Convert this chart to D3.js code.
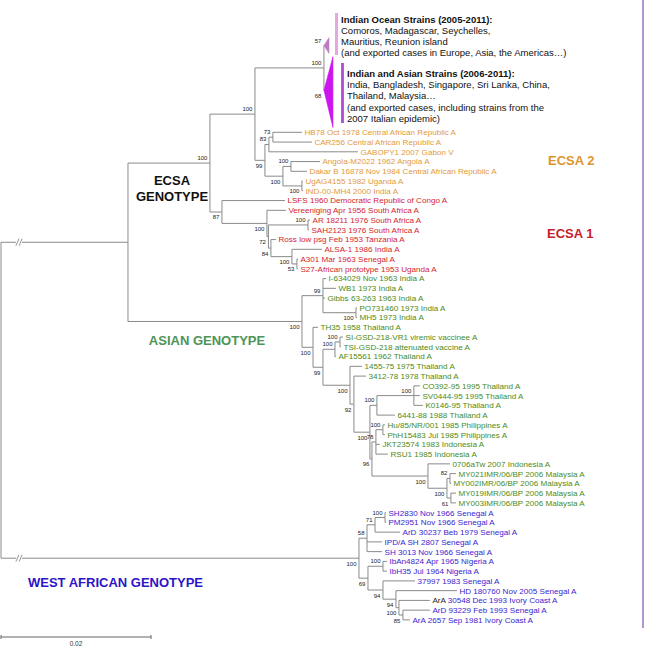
<!DOCTYPE html>
<html><head><meta charset="utf-8">
<script src="https://cdn.jsdelivr.net/npm/d3@7"></script>
<style>
html,body{margin:0;padding:0;background:#fff;}
svg{display:block;font-family:"Liberation Sans",Arial,Helvetica,sans-serif;}
</style></head><body>
<svg id="chart" width="645" height="646"></svg>
<script>
// ---------------- DATA ----------------
// Branch lengths in substitutions/site, bootstrap support as internal labels.
const ecsa2Newick = "((('HB78 Oct 1978 Central African Republic A':0.00387,'CAR256 Central African Republic A':0.0052)73:0.00053,'GABOPY1 2007 Gabon V':0.01187)83:0.00053,(('Angola-M2022 1962 Angola A':0.00387,'Dakar B 16878 Nov 1984 Central African Republic A':0.00213)100:0.00107,('UgAG4155 1982 Uganda A':0.00013,'IND-00-MH4 2000 India A':0.00013)100:0.00253)100:0.0024)99:0.00133";
const indianOceanNewick = "(('[IO]':0,'[IA]':0)100:0.0092," + ecsa2Newick + ")100:0.006";
const ecsa1Newick = "('LSFS 1960 Democratic Republic of Congo A':0.0084,('Vereeniging Apr 1956 South Africa A':0.00253,(('AR 18211 1976 South Africa A':0.00027,'SAH2123 1976 South Africa A':0.00013)100:0.00527,('Ross low psg Feb 1953 Tanzania A':0.00067,('ALSA-1 1986 India A':0.004,('A301 Mar 1963 Senegal A':0.00013,'S27-African prototype 1953 Uganda A':0.00013)53:0.00067)100:0.0028)84:0.00033)72:0.0002)100:0.006)87:0.0016";
const asianNewick = "(" +
  "('I-634029 Nov 1963 India A':0.0004,'WB1 1973 India A':0.00173,'Gibbs 63-263 1963 India A':0.00027,('PO731460 1973 India A':0.00013,'MH5 1973 India A':0.00013)100:0.0044)99:0.0028," +
  "('TH35 1958 Thailand A':0.00067,(" +
  "(('SI-GSD-218-VR1 viremic vaccinee A':0.0004,'TSI-GSD-218 attenuated vaccine A':0.00013)100:0.00067,'AF15561 1962 Thailand A':0.00013)100:0.0016," +
  "('1455-75 1975 Thailand A':0.0016,('3412-78 1978 Thailand A':0.0016,(" +
  "(('CO392-95 1995 Thailand A':0.0008,'SV0444-95 1995 Thailand A':0.0008,'K0146-95 Thailand A':0.0012)100:0.00493,'6441-88 1988 Thailand A':0.0024)100:0.00093," +
  "((('Hu/85/NR/001 1985 Philippines A':0.00027,'PhH15483 Jul 1985 Philippines A':0.00027)100:0.00093,'JKT23574 1983 Indonesia A':0.00053,'RSU1 1985 Indonesia A':0.0016)78:0.00053," +
  "('0706aTw 2007 Indonesia A':0.00293,(('MY021IMR/06/BP 2006 Malaysia A':0.0008,'MY002IMR/06/BP 2006 Malaysia A':0.00013)82:0.0004,('MY019IMR/06/BP 2006 Malaysia A':0.00067,'MY003IMR/06/BP 2006 Malaysia A':0.00067)61:0.00053)100:0.00253)100:0.00747" +
  ")96:0.00027)100:0.00213)92:0.00053)100:0.0036)99:0.00133)100:0.00147)100:0.0232";
const westAfricanNewick = "(" +
  "((('SH2830 Nov 1966 Senegal A':0.00013,'PM2951 Nov 1966 Senegal A':0.00013)100:0.00133,'ArD 30237 Beb 1979 Senegal A':0.00333)71:0.00107,'IPD/A SH 2807 Senegal A':0.002,'SH 3013 Nov 1966 Senegal A':0.002)58:0.00107," +
  "(('IbAn4824 Apr 1965 Nigeria A':0.00053,'IbH35 Jul 1964 Nigeria A':0.00053)100:0.002,('37997 1983 Senegal A':0.00427,('HD 180760 Nov 2005 Senegal A':0.00813,('ArA 30548 Dec 1993 Ivory Coast A':0.00413,('ArD 93229 Feb 1993 Senegal A':0.0036,'ArA 2657 Sep 1981 Ivory Coast A':0.00093)85:0.00053)100:0.0004)94:0.00173)94:0.002)69:0.0012" +
  ")100:0.04773";
const treeNewick = "(((" + indianOceanNewick + "," + ecsa1Newick + ")100:0.01093," + asianNewick + "):0.01693," + westAfricanNewick + ");";

// collapsed clades
const cladeKeys = ['[IO]', '[IA]'];
const cladeSupport = [57, 68];
const cladeDepth = [0.00067, 0.0012];
const cladeTitles = ['Indian Ocean Strains (2005-2011):', 'Indian and Asian Strains (2006-2011):'];
const cladeLines = [
  ['Comoros, Madagascar, Seychelles,', 'Mauritius, Reunion island', '(and exported cases in Europe, Asia, the Americas\u2026)'],
  ['India, Bangladesh, Singapore, Sri Lanka, China,', 'Thailand, Malaysia\u2026', '(and exported cases, including strains from the', '2007 Italian epidemic)']
];

// lineage groups (first strain of each group, in tree order)
const groupNames = ['ECSA2', 'ECSA1', 'Asian', 'WestAfrican'];
const groupFirstStrain = ['HB78 Oct 1978 Central African Republic A', 'LSFS 1960 Democratic Republic of Congo A', 'I-634029 Nov 1963 India A', 'SH2830 Nov 1966 Senegal A'];
const scaleBarValue = 0.02;

// ---------------- STYLE / LAYOUT ----------------
const groupColors = {ECSA2: '#E39A3B', ECSA1: '#D5252E', Asian: '#4A8B22', WestAfrican: '#3B1ECF'};
const cladeRows = [1.6, 7.6];
const cladeFill = ['#C07CC2', '#CC14EE'];
const cladeBar = ['#E3A8DC', '#B24AD8'];
const lineColor = '#8a8a8a';

function parseNewick(s) {
  let i = 0;
  function node() {
    const n = {};
    if (s[i] === '(') {
      n.children = [];
      i++;
      n.children.push(node());
      while (s[i] === ',') { i++; n.children.push(node()); }
      i++;
    }
    let label = '';
    if (s[i] === "'") { i++; while (s[i] !== "'") label += s[i++]; i++; }
    else { while (i < s.length && !':,();'.includes(s[i])) label += s[i++]; }
    let len = '';
    if (s[i] === ':') { i++; while (i < s.length && !',();'.includes(s[i])) len += s[i++]; }
    n.length = len ? +len : 0;
    if (n.children) n.support = label ? +label : null; else n.name = label;
    return n;
  }
  return node();
}

const svg = d3.select('#chart');
const root = d3.hierarchy(parseNewick(treeNewick), d => d.children);
root.eachBefore(d => { d.dist = d.parent ? d.parent.dist + d.data.length : 0; });
const leaves = root.leaves();
let cursor = 0, gi = -1;
leaves.forEach(l => {
  const ci = cladeKeys.indexOf(l.data.name);
  l.ci = ci;
  const size = ci >= 0 ? cladeRows[ci] : 1;
  l.slot = [cursor, cursor + size];
  l.row = cursor + size / 2;
  cursor += size;
  const g = groupFirstStrain.indexOf(l.data.name);
  if (g >= 0) gi = g;
  l.group = gi >= 0 ? groupNames[gi] : null;
});
root.eachAfter(d => { if (d.children) d.row = (d.children[0].row + d.children[d.children.length - 1].row) / 2; });

const normal = leaves.filter(l => l.ci < 0);
const y = d3.scaleLinear().domain([normal[0].row, normal[normal.length - 1].row]).range([132.3, 619.9]);
const x = d3.scaleLinear().domain([0, scaleBarValue]).range([1, 151]);

// right-hand frame line
svg.append('line').attr('x1', 643).attr('x2', 643).attr('y1', 0).attr('y2', 628)
  .attr('stroke', '#9a72c4').attr('stroke-width', 1.5);

// branches
const internals = root.descendants().filter(d => d.children);
const gl = svg.append('g').attr('fill', 'none').attr('stroke', lineColor).attr('stroke-width', 1);
gl.selectAll('path.v').data(internals).join('path').attr('class', 'v')
  .attr('d', d => `M${x(d.dist)},${y(d.children[0].row)}V${y(d.children[d.children.length - 1].row)}`);
gl.selectAll('path.h').data(root.links()).join('path').attr('class', 'h')
  .attr('d', l => `M${x(l.source.dist)},${y(l.target.row)}H${x(l.target.dist)}`);

// break marks on the two long basal branches
root.children.forEach(c => {
  const yy = y(c.row), bx = x(0.0024);
  svg.append('rect').attr('x', bx - 3).attr('y', yy - 2).attr('width', 6).attr('height', 4).attr('fill', '#fff');
  [-1.6, 1.6].forEach(o => svg.append('line')
    .attr('x1', bx + o - 1.5).attr('y1', yy + 3.5).attr('x2', bx + o + 1.5).attr('y2', yy - 3.5)
    .attr('stroke', lineColor).attr('stroke-width', 0.9));
});

// collapsed clades (triangles + bars + descriptions)
const collapsed = leaves.filter(l => l.ci >= 0);
svg.selectAll('path.tri').data(collapsed).join('path').attr('class', 'tri')
  .attr('d', l => {
    const tx = x(l.dist), rx = x(l.dist + cladeDepth[l.ci]);
    const pad = l.ci === 1 ? 3.5 : 0;
    return `M${tx},${y(l.row)}L${rx},${y(l.slot[0]) + pad}L${rx},${y(l.slot[1])}Z`;
  })
  .attr('fill', l => cladeFill[l.ci]).attr('stroke', l => cladeFill[l.ci]).attr('stroke-width', 0.6);

const barX = [336.5, 342.5], barTop = [13, 63], barBot = [55, 123];
const textX = [341, 347], textBase = [22.5, 77], lh = [11.3, 11.2];
collapsed.forEach(l => {
  const c = l.ci;
  svg.append('line').attr('x1', barX[c]).attr('x2', barX[c]).attr('y1', barTop[c]).attr('y2', barBot[c])
    .attr('stroke', cladeBar[c]).attr('stroke-width', c === 0 ? 3 : 2.8);
  const t = svg.append('text').attr('font-size', 9.5).attr('fill', '#111');
  t.append('tspan').attr('x', textX[c]).attr('y', textBase[c]).attr('font-weight', 'bold').text(cladeTitles[c]);
  cladeLines[c].forEach((s, k) => t.append('tspan').attr('x', textX[c]).attr('y', textBase[c] + lh[c] * (k + 1)).text(s));
});

// bootstrap values
const supported = internals.filter(d => d.data.support != null).map(d => ({node: d, v: d.data.support}))
  .concat(collapsed.map(l => ({node: l, v: cladeSupport[l.ci]})));
svg.append('g').attr('font-size', 6).attr('fill', '#222').attr('text-anchor', 'end')
  .selectAll('text').data(supported).join('text')
  .attr('x', s => x(s.node.dist) - 2.5)
  .attr('y', s => {
    const first = s.node.parent && s.node.parent.children[0] === s.node;
    return y(s.node.row) + (first ? -3 : 7.5);
  })
  .text(s => s.v);

// leaf labels
const tl = svg.append('g').attr('font-size', 8.1)
  .selectAll('text').data(normal).join('text')
  .attr('x', l => x(l.dist) + 2.5)
  .attr('y', l => y(l.row) + 2.9)
  .attr('fill', l => groupColors[l.group]);
tl.each(function (l) {
  const t = d3.select(this), nm = l.data.name;
  if (nm.startsWith('ArA 30548')) {
    t.append('tspan').attr('fill', '#222').text('ArA');
    t.append('tspan').text(nm.slice(3));
  } else t.text(nm);
});

// genotype labels
const lab = svg.append('g').attr('font-weight', 'bold').attr('font-size', 13);
lab.append('text').attr('x', 172).attr('y', 185).attr('text-anchor', 'middle').attr('fill', '#111').text('ECSA');
lab.append('text').attr('x', 172).attr('y', 201).attr('text-anchor', 'middle').attr('fill', '#111').text('GENOTYPE');
lab.append('text').attr('x', 207).attr('y', 345).attr('text-anchor', 'middle').attr('fill', '#4E9457').text('ASIAN GENOTYPE');
lab.append('text').attr('x', 28).attr('y', 587).attr('fill', '#2D14C8').text('WEST AFRICAN GENOTYPE');
lab.append('text').attr('x', 548).attr('y', 165).attr('fill', '#E0942E').text('ECSA 2');
lab.append('text').attr('x', 547).attr('y', 238).attr('fill', '#C8202A').text('ECSA 1');

// scale bar
const sb = svg.append('g').attr('stroke', '#555').attr('stroke-width', 0.9);
const sy = 637;
sb.append('line').attr('x1', x(0)).attr('x2', x(scaleBarValue)).attr('y1', sy).attr('y2', sy);
[0, scaleBarValue].forEach(v => sb.append('line').attr('x1', x(v)).attr('x2', x(v)).attr('y1', sy - 2).attr('y2', sy + 2));
svg.append('text').attr('x', (x(0) + x(scaleBarValue)) / 2).attr('y', 645.5).attr('text-anchor', 'middle')
  .attr('font-size', 6.5).attr('fill', '#333').text(scaleBarValue);
</script></body></html>
